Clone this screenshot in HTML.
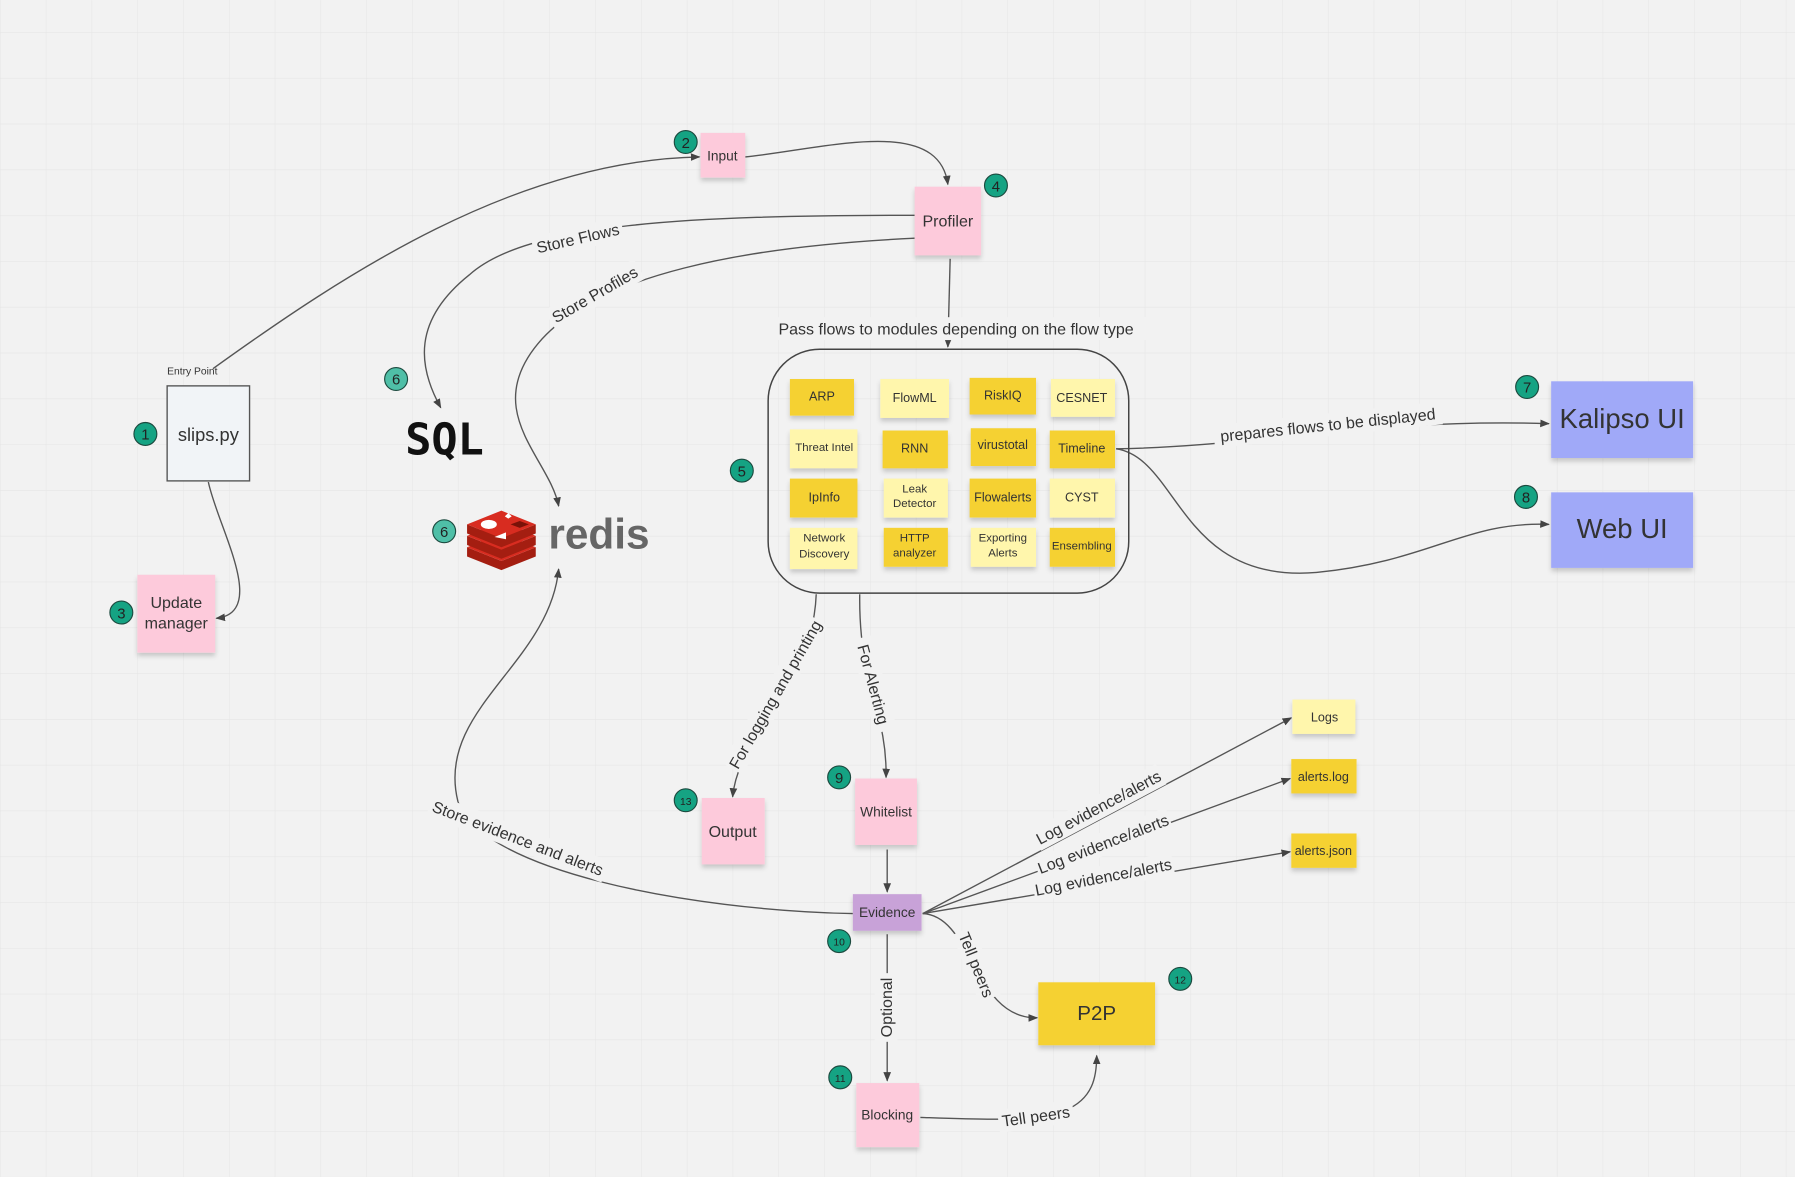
<!DOCTYPE html>
<html><head><meta charset="utf-8"><style>
html,body{margin:0;padding:0;background:#f2f2f2;}
svg{display:block;}
text{font-family:"Liberation Sans",sans-serif;fill:#333;}
</style></head><body>
<svg width="1795" height="1177" viewBox="0 0 1568 1028" xmlns="http://www.w3.org/2000/svg">
<defs>
<pattern id="g" width="40" height="40" patternUnits="userSpaceOnUse" x="0" y="28">
<path d="M40 0H0V40" fill="none" stroke="#e6e6e6" stroke-width="1"/>
</pattern>
<marker id="a" viewBox="0 0 10 10" refX="9" refY="5" markerWidth="7" markerHeight="7" orient="auto"><path d="M0 1L10 5L0 9z" fill="#444"/></marker>
<filter id="s" x="-10%" y="-10%" width="130%" height="140%"><feDropShadow dx="0" dy="3" stdDeviation="2" flood-color="#000" flood-opacity="0.18"/></filter>
</defs>
<rect width="1568" height="1028" fill="#f2f2f2"/>
<rect width="1568" height="1028" fill="url(#g)"/>

<g fill="none" stroke="#555" stroke-width="1.2">
<path d="M186 322 C300 240 450 140 611 137" marker-end="url(#a)"/>
<path d="M651 137 C720 130 820 100 828 161" marker-end="url(#a)"/>
<path d="M799 188 C600 188 460 195 410 240 C360 280 365 320 385 356" marker-end="url(#a)"/>
<path d="M799 208 C650 215 520 240 470 300 C420 360 480 400 488 442" marker-end="url(#a)"/>
<path d="M830 226 L828 303" marker-end="url(#a)"/>
<path d="M182 421 C190 460 235 535 189 540" marker-end="url(#a)"/>
<path d="M975 392 C1100 390 1200 365 1353 370" marker-end="url(#a)"/>
<path d="M975 392 C1030 400 1030 510 1150 500 C1250 490 1280 455 1353 458" marker-end="url(#a)"/>
<path d="M713 519 C710 600 645 640 640 696" marker-end="url(#a)"/>
<path d="M751 519 C750 600 775 620 774 679" marker-end="url(#a)"/>
<path d="M775 742 L775 779" marker-end="url(#a)"/>
<path d="M745 798 C600 795 420 760 400 700 C380 620 480 580 488 497" marker-end="url(#a)"/>
<path d="M806 798 L1128 627" marker-end="url(#a)"/>
<path d="M806 798 L1127 680" marker-end="url(#a)"/>
<path d="M806 798 L1127 744" marker-end="url(#a)"/>
<path d="M806 798 C850 800 850 890 906 889" marker-end="url(#a)"/>
<path d="M775 816 L775 944" marker-end="url(#a)"/>
<path d="M804 976 C860 978 900 980 930 970 C955 960 958 940 958 922" marker-end="url(#a)"/>
</g>

<g font-size="14">
<g transform="translate(505,209) rotate(-13)"><rect x="-40" y="-11" width="80" height="20" fill="#f2f2f2"/><text text-anchor="middle" y="4">Store Flows</text></g>
<g transform="translate(520,258) rotate(-30)"><rect x="-45" y="-11" width="90" height="20" fill="#f2f2f2"/><text text-anchor="middle" y="4">Store Profiles</text></g>
<rect x="678" y="277" width="340" height="20" fill="#f2f2f2"/>
<text x="680" y="292">Pass flows to modules  depending on the flow type</text>
<g transform="translate(1160,372) rotate(-6)"><rect x="-100" y="-11" width="200" height="20" fill="#f2f2f2"/><text text-anchor="middle" y="4">prepares flows to be displayed</text></g>
<g transform="translate(678,607) rotate(-60)"><rect x="-75" y="-11" width="150" height="20" fill="#f2f2f2"/><text text-anchor="middle" y="4">For logging and printing</text></g>
<g transform="translate(762,598) rotate(75)"><rect x="-42" y="-11" width="84" height="20" fill="#f2f2f2"/><text text-anchor="middle" y="4">For Alerting</text></g>
<g transform="translate(452,733) rotate(21)"><rect x="-82" y="-11" width="164" height="20" fill="#f2f2f2"/><text text-anchor="middle" y="4">Store evidence and alerts</text></g>
<g transform="translate(960,706) rotate(-28)"><rect x="-62" y="-11" width="124" height="20" fill="#f2f2f2"/><text text-anchor="middle" y="4">Log evidence/alerts</text></g>
<g transform="translate(964,738) rotate(-21)"><rect x="-62" y="-11" width="124" height="20" fill="#f2f2f2"/><text text-anchor="middle" y="4">Log evidence/alerts</text></g>
<g transform="translate(964,767) rotate(-11)"><rect x="-62" y="-11" width="124" height="20" fill="#f2f2f2"/><text text-anchor="middle" y="4">Log evidence/alerts</text></g>
<g transform="translate(852,843) rotate(68)"><rect x="-32" y="-11" width="64" height="20" fill="#f2f2f2"/><text text-anchor="middle" y="4">Tell peers</text></g>
<g transform="translate(775,880) rotate(-90)"><rect x="-30" y="-11" width="60" height="20" fill="#f2f2f2"/><text text-anchor="middle" y="4">Optional</text></g>
<g transform="translate(905,976) rotate(-8)"><rect x="-33" y="-11" width="66" height="20" fill="#f2f2f2"/><text text-anchor="middle" y="4">Tell peers</text></g>
</g>

<text x="168" y="327" font-size="9" text-anchor="middle">Entry Point</text>
<rect x="146" y="337" width="72" height="83" fill="#f1f4f7" stroke="#555" stroke-width="1.2"/>
<text x="182" y="385" font-size="16" text-anchor="middle">slips.py</text>

<g filter="url(#s)" fill="#fdcadb">
<rect x="120" y="502" width="68" height="68"/>
<rect x="612" y="116" width="39" height="39"/>
<rect x="799" y="163" width="58" height="60"/>
<rect x="613" y="697" width="55" height="58"/>
<rect x="747" y="680" width="54" height="58"/>
<rect x="748" y="946" width="55" height="56"/>
</g>
<text x="154" y="531" font-size="14" text-anchor="middle">Update</text>
<text x="154" y="549" font-size="14" text-anchor="middle">manager</text>
<text x="631" y="140" font-size="12" text-anchor="middle">Input</text>
<text x="828" y="198" font-size="14" text-anchor="middle">Profiler</text>
<text x="640" y="731" font-size="14" text-anchor="middle">Output</text>
<text x="774" y="713" font-size="12" text-anchor="middle">Whitelist</text>
<text x="775" y="978" font-size="12" text-anchor="middle">Blocking</text>

<rect x="745" y="781" width="60" height="32" fill="#c8a2d8" filter="url(#s)"/>
<text x="775" y="801" font-size="12" text-anchor="middle">Evidence</text>

<text x="354" y="397" font-size="38" font-weight="bold" style="font-family:'DejaVu Sans Mono','Liberation Mono',monospace;fill:#111">SQL</text>

<g>
<path d="M408 478 L438 490 L468 478 L468 486 L438 498 L408 486z" fill="#a41e11"/>
<path d="M408 478 L438 466 L468 478 L438 490z" fill="#d82c20"/>
<path d="M408 468 L438 480 L468 468 L468 476 L438 488 L408 476z" fill="#a41e11"/>
<path d="M408 468 L438 456 L468 468 L438 480z" fill="#d82c20"/>
<path d="M408 458 L438 470 L468 458 L468 466 L438 478 L408 466z" fill="#a41e11"/>
<path d="M408 458 L438 446 L468 458 L438 470z" fill="#d82c20"/>
<ellipse cx="427" cy="458" rx="7" ry="4" fill="#fff"/>
<path d="M441 451 l3 -3 l3 3 l-3 2z" fill="#fff"/>
<path d="M432 469 l10 -4 l0 6z" fill="#fff"/>
<path d="M446 458 l8 -3 l8 3 l-8 3z" fill="#7a1208"/>
</g>
<text x="479" y="479" font-size="37" font-weight="bold" style="fill:#666">redis</text>

<rect x="671" y="305" width="315" height="213" rx="45" fill="none" stroke="#444" stroke-width="1.3"/>
<g filter="url(#s)">
<rect x="690" y="331" width="56" height="32" fill="#f5d130"/>
<rect x="769" y="331" width="60" height="34" fill="#fff6ac"/>
<rect x="847" y="330" width="58" height="32" fill="#f5d130"/>
<rect x="918" y="331" width="56" height="33" fill="#fff6ac"/>
<rect x="690" y="375" width="59" height="34" fill="#fff6ac"/>
<rect x="771" y="376" width="57" height="33" fill="#f5d130"/>
<rect x="848" y="374" width="57" height="33" fill="#f5d130"/>
<rect x="917" y="376" width="57" height="33" fill="#f5d130"/>
<rect x="690" y="418" width="59" height="34" fill="#f5d130"/>
<rect x="772" y="418" width="56" height="34" fill="#fff6ac"/>
<rect x="847" y="418" width="58" height="34" fill="#f5d130"/>
<rect x="917" y="418" width="57" height="34" fill="#fff6ac"/>
<rect x="690" y="461" width="59" height="36" fill="#fff6ac"/>
<rect x="772" y="461" width="56" height="34" fill="#f5d130"/>
<rect x="848" y="461" width="57" height="34" fill="#fff6ac"/>
<rect x="917" y="461" width="57" height="34" fill="#f5d130"/>
</g>
<g font-size="11" text-anchor="middle">
<text x="718" y="350">ARP</text>
<text x="799" y="351">FlowML</text>
<text x="876" y="349">RiskIQ</text>
<text x="945" y="351">CESNET</text>
<text x="720" y="394" font-size="10">Threat Intel</text>
<text x="799" y="395">RNN</text>
<text x="876" y="392">virustotal</text>
<text x="945" y="395">Timeline</text>
<text x="720" y="438">IpInfo</text>
<text x="799" y="430" font-size="10">Leak</text>
<text x="799" y="443" font-size="10">Detector</text>
<text x="876" y="438">Flowalerts</text>
<text x="945" y="438">CYST</text>
<text x="720" y="473" font-size="10">Network</text>
<text x="720" y="487" font-size="10">Discovery</text>
<text x="799" y="473" font-size="10">HTTP</text>
<text x="799" y="486" font-size="10">analyzer</text>
<text x="876" y="473" font-size="10">Exporting</text>
<text x="876" y="486" font-size="10">Alerts</text>
<text x="945" y="480" font-size="10">Ensembling</text>
</g>

<g filter="url(#s)" fill="#a0a9f8">
<rect x="1355" y="333" width="124" height="67"/>
<rect x="1355" y="430" width="124" height="66"/>
</g>
<text x="1417" y="374" font-size="24" text-anchor="middle">Kalipso UI</text>
<text x="1417" y="470" font-size="24" text-anchor="middle">Web UI</text>

<g filter="url(#s)">
<rect x="1129" y="611" width="55" height="30" fill="#fff6ac"/>
<rect x="1128" y="663" width="57" height="30" fill="#f5d130"/>
<rect x="1128" y="728" width="57" height="30" fill="#f5d130"/>
<rect x="907" y="858" width="102" height="55" fill="#f5d130"/>
</g>
<text x="1157" y="630" font-size="11" text-anchor="middle">Logs</text>
<text x="1156" y="682" font-size="11" text-anchor="middle">alerts.log</text>
<text x="1156" y="747" font-size="11" text-anchor="middle">alerts.json</text>
<text x="958" y="891" font-size="18" text-anchor="middle">P2P</text>

<g stroke="#1c4a3f" stroke-width="1" font-size="12">
<circle cx="127" cy="379" r="10" fill="#15a383"/>
<circle cx="599" cy="124" r="10" fill="#15a383"/>
<circle cx="106" cy="535" r="10" fill="#15a383"/>
<circle cx="870" cy="162" r="10" fill="#15a383"/>
<circle cx="648" cy="411" r="10" fill="#15a383"/>
<circle cx="346" cy="331" r="10" fill="#4fbfa7"/>
<circle cx="388" cy="464" r="10" fill="#4fbfa7"/>
<circle cx="1334" cy="338" r="10" fill="#15a383"/>
<circle cx="1333" cy="434" r="10" fill="#15a383"/>
<circle cx="733" cy="679" r="10" fill="#15a383"/>
<circle cx="733" cy="822" r="10" fill="#15a383"/>
<circle cx="734" cy="941" r="10" fill="#15a383"/>
<circle cx="599" cy="699" r="10" fill="#15a383"/>
<circle cx="1031" cy="855" r="10" fill="#15a383"/>
</g>
<g font-size="13" text-anchor="middle">
<text x="127" y="384" style="fill:#222">1</text>
<text x="599" y="129" style="fill:#222">2</text>
<text x="106" y="540" style="fill:#222">3</text>
<text x="870" y="167" style="fill:#222">4</text>
<text x="648" y="416" style="fill:#222">5</text>
<text x="346" y="336" style="fill:#222">6</text>
<text x="388" y="469" style="fill:#222">6</text>
<text x="1334" y="343" style="fill:#222">7</text>
<text x="1333" y="439" style="fill:#222">8</text>
<text x="733" y="684" style="fill:#222">9</text>
<text x="733" y="826" font-size="9" style="fill:#222">10</text>
<text x="734" y="945" font-size="9" style="fill:#222">11</text>
<text x="599" y="703" font-size="9" style="fill:#222">13</text>
<text x="1031" y="859" font-size="9" style="fill:#222">12</text>
</g>
</svg>
</body></html>
